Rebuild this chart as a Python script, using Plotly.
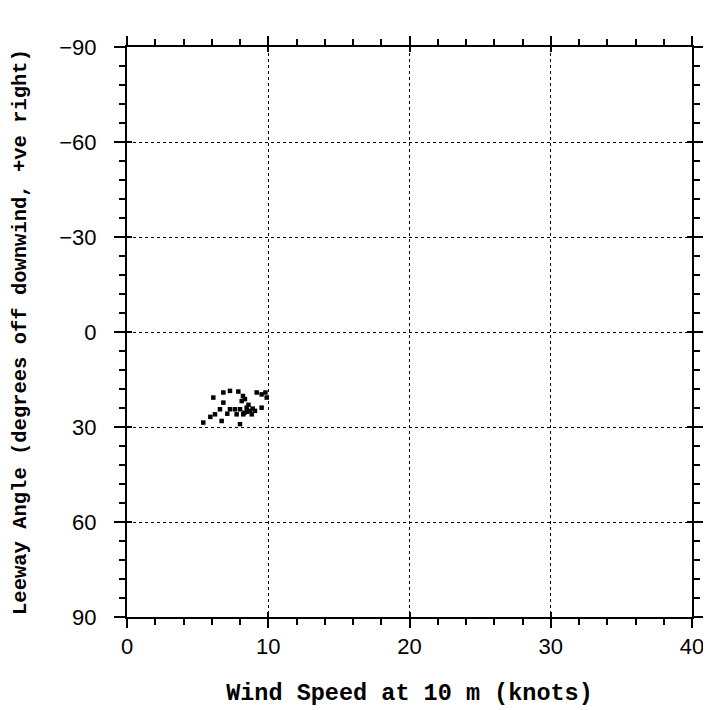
import plotly.graph_objects as go

wind_speed = [6.11, 6.82, 7.29, 7.88, 8.21, 8.12, 8.35, 9.18, 9.53, 9.8, 9.89,
              6.82, 6.58, 6.23, 7.29, 7.64, 8.0, 7.76, 8.23, 8.47, 8.70, 8.83,
              8.49, 9.06, 9.53, 5.40, 6.70, 8.0, 5.9, 8.6, 8.3, 8.9, 7.1]
leeway = [20.7, 19.1, 18.6, 18.8, 20.2, 21.8, 21.2, 19.1, 19.7, 19.1, 20.7,
          22.3, 24.4, 26.0, 24.4, 24.4, 24.4, 26.0, 26.0, 23.9, 24.9, 26.0,
          25.2, 24.9, 23.9, 28.6, 28.1, 29.1, 26.8, 23.0, 25.5, 24.2, 25.8]

x_ticks = [0, 10, 20, 30, 40]
y_ticks = [-90, -60, -30, 0, 30, 60, 90]
x_ticktext = [str(v) for v in x_ticks]
y_ticktext = [("−" + str(-v)) if v < 0 else str(v) for v in y_ticks]

fig = go.Figure()
fig.add_trace(go.Scatter(
    x=wind_speed, y=leeway, mode="markers",
    marker=dict(symbol="square", size=4.5, color="black"),
    showlegend=False, cliponaxis=False,
))
# invisible trace on overlay axes so they render
fig.add_trace(go.Scatter(x=[None], y=[None], xaxis="x2", yaxis="y2",
                         showlegend=False, hoverinfo="skip"))

tick_font = dict(family="Liberation Sans", size=22, color="black")
title_font_family = "Liberation Mono"

axis_common = dict(
    showline=True, linecolor="black", linewidth=2, mirror="ticks",
    ticks="outside", tickwidth=2, tickcolor="black",
    showgrid=True, gridcolor="black", gridwidth=1.3, griddash="dot",
    zeroline=False, automargin=False,
    tickfont=tick_font,
)

fig.update_layout(
    xaxis=dict(
        range=[0, 40], tickvals=x_ticks, ticktext=x_ticktext, ticklen=9,
        minor=dict(dtick=2, ticks="outside", ticklen=6, tickwidth=1.5, tickcolor="black", showgrid=False),
        title=dict(text="<b>Wind Speed at 10 m (knots)</b>",
                   font=dict(family=title_font_family, size=23.5, color="black"), standoff=25),
        ticklabelstandoff=0,
        **axis_common,
    ),
    yaxis=dict(
        range=[90, -90], tickvals=y_ticks, ticktext=y_ticktext, ticklen=11,
        minor=dict(dtick=6, ticks="outside", ticklen=6, tickwidth=1.5, tickcolor="black", showgrid=False),
        title=dict(text="<b>Leeway Angle (degrees off downwind, +ve right)</b>",
                   font=dict(family=title_font_family, size=20.5, color="black"), standoff=27),
        ticklabelstandoff=13,
        **axis_common,
    ),
    xaxis2=dict(
        overlaying="x", matches="x", tickvals=x_ticks, ticks="inside", ticklen=5, tickwidth=2,
        tickcolor="black", showticklabels=False, showgrid=False, zeroline=False,
        showline=False, mirror="ticks", automargin=False,
    ),
    yaxis2=dict(
        overlaying="y", matches="y", tickvals=y_ticks, ticks="inside", ticklen=5, tickwidth=2,
        tickcolor="black", showticklabels=False, showgrid=False, zeroline=False,
        showline=False, mirror="ticks", automargin=False,
    ),
    width=703, height=702,
    margin=dict(l=119, r=19, t=39, b=93),
    paper_bgcolor="white", plot_bgcolor="white",
)

fig.write_html("out.html")
